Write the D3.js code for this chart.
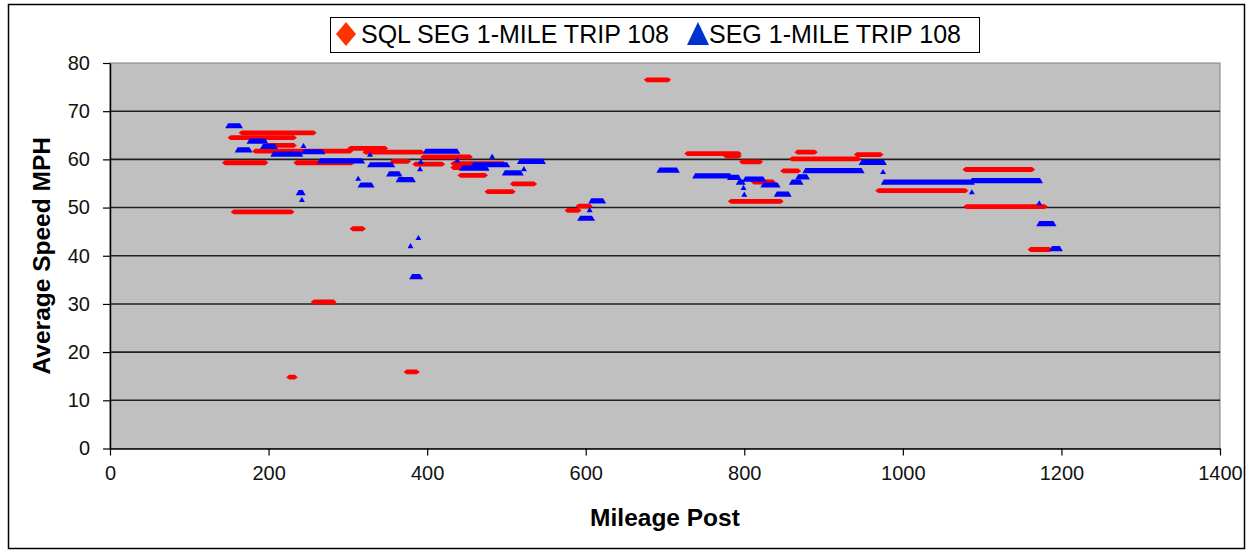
<!DOCTYPE html>
<html><head><meta charset="utf-8">
<script src="https://cdn.jsdelivr.net/npm/d3@7"></script>
<style>body{margin:0;background:#fff}svg{display:block}text{font-family:"Liberation Sans",Arial,sans-serif}</style>
</head><body><svg id="c" width="1249" height="552"></svg>
<script>
// Series data as [startMile, endMile, avgSpeed]; a point has start == end
const sqlSeg = [
 [145,196,59.3],[152,232,64.5],[166,257,65.5],[200,232,62.9],[183,303,61.7],[156,229,49.1],
 [235,305,59.3],[226,233,14.8],[257,282,30.4],[306,319,45.6],[303,347,62.3],[322,393,61.5],
 [357,376,59.6],[374,387,15.9],[385,419,59.0],[395,454,60.5],[433,496,59.1],[433,454,58.3],
 [442,473,56.7],[476,508,53.3],[508,535,54.9],[577,591,49.4],[591,605,50.3],[677,704,76.5],
 [728,793,61.2],[777,793,60.7],[797,820,59.5],[783,846,51.3],[812,836,55.3],[849,868,57.6],
 [860,944,60.1],[867,889,61.5],[942,972,61.0],[969,1079,53.5],[1079,1163,57.9],[1080,1179,50.2],
 [1161,1185,41.3]
];
const seg = [
 [149,164,66.9],[161,176,61.9],[176,196,63.7],[193,208,62.6],[206,240,61.0],[244,268,61.5],
 [244,244,62.8],[238,243,53.0],[242,242,51.6],[265,318,59.6],[313,313,56.0],[316,330,54.6],
 [328,356,58.8],[328,328,61.0],[352,365,56.9],[364,382,55.7],[379,379,42.0],[381,391,35.6],
 [389,389,43.7],[391,391,58.0],[392,392,59.5],[398,438,61.6],[438,438,59.8],[444,475,58.1],
 [458,501,58.8],[482,482,60.6],[498,518,57.1],[522,522,58.0],[517,546,59.5],[593,608,47.7],
 [605,605,49.5],[607,622,51.3],[693,715,57.7],[738,782,56.5],[782,793,56.2],[793,798,55.2],
 [799,799,54.1],[800,800,52.7],[801,824,55.8],[824,842,54.6],[841,856,52.7],[860,871,55.2],
 [868,879,56.3],[877,948,57.6],[948,976,59.3],[975,975,57.4],[976,1087,55.2],[1087,1173,55.5],
 [1087,1087,53.2],[1172,1172,50.9],[1172,1190,46.6],[1188,1198,41.4]
];
const seriesNames = ["SQL SEG 1-MILE TRIP 108","SEG 1-MILE TRIP 108"];
const xTicks = [0,200,400,600,800,1000,1200,1400];
const yTicks = [0,10,20,30,40,50,60,70,80];

const svg = d3.select("#c");
const L=110,R=1220,T=63,B=448.5;
const x = d3.scaleLinear().domain([0,1400]).range([L,R]);
const y = d3.scaleLinear().domain([0,80]).range([B,T]);

svg.append("rect").attr("x",8.5).attr("y",4.5).attr("width",1236).attr("height",544)
  .attr("fill","#fff").attr("stroke","#000").attr("stroke-width",1.5);
svg.append("rect").attr("x",L).attr("y",T).attr("width",R-L).attr("height",B-T)
  .attr("fill","#C0C0C0").attr("stroke","#808080").attr("stroke-width",1);

// gridlines
svg.append("g").selectAll("line").data(yTicks.filter(d=>d>0&&d<80)).join("line")
  .attr("x1",L).attr("x2",R).attr("y1",d=>y(d)).attr("y2",d=>y(d))
  .attr("stroke","#202020").attr("stroke-width",1.6);

// axes
const gx = svg.append("g").attr("transform",`translate(0,${B})`)
  .call(d3.axisBottom(x).tickValues(xTicks).tickFormat(d3.format("d")).tickSize(7).tickPadding(10).tickSizeOuter(0));
const gy = svg.append("g").attr("transform",`translate(${L},0)`)
  .call(d3.axisLeft(y).tickValues(yTicks).tickFormat(d3.format("d")).tickSize(7).tickPadding(13).tickSizeOuter(0));
[gx,gy].forEach(g=>{
  g.select(".domain").attr("stroke","#000").attr("stroke-width",1.5);
  g.selectAll(".tick line").attr("stroke","#000").attr("stroke-width",1.2);
  g.selectAll("text").attr("font-size",20).attr("fill","#111")
   .attr("font-family",'"Liberation Sans",Arial,sans-serif');
});

// series marks
function redPath(d){
  const x1=x(d[0]),x2=x(d[1]),yy=y(d[2]),h=2.4;
  return `M${x1-3},${yy}L${x1},${yy-h}L${x2},${yy-h}L${x2+3},${yy}L${x2},${yy+h}L${x1},${yy+h}Z`;
}
function bluePath(d){
  const x1=x(d[0]),x2=x(d[1]),yy=y(d[2]);
  return `M${x1-3},${yy+2.2}L${x1},${yy-3}L${x2},${yy-3}L${x2+3},${yy+2.2}Z`;
}
svg.append("g").selectAll("path").data(sqlSeg).join("path").attr("d",redPath).attr("fill","#FF0000");
svg.append("g").selectAll("path").data(seg).join("path").attr("d",bluePath).attr("fill","#0000FF");

// axis titles
svg.append("text").attr("x",(L+R)/2).attr("y",526).attr("text-anchor","middle")
  .attr("font-size",24.5).attr("font-weight","bold").text("Mileage Post");
svg.append("text").attr("transform",`translate(50,${(T+B)/2}) rotate(-90)`).attr("text-anchor","middle")
  .attr("font-size",24.5).attr("font-weight","bold").text("Average Speed MPH");

// legend
const lg = svg.append("g");
lg.append("rect").attr("x",330.5).attr("y",17.5).attr("width",649).attr("height",35)
  .attr("fill","#fff").attr("stroke","#000").attr("stroke-width",1);
lg.append("path").attr("d","M346,22L356,34L346,46L336,34Z").attr("fill","#FF3300");
lg.append("text").attr("x",361).attr("y",43).attr("font-size",25).text(seriesNames[0]);
lg.append("path").attr("d","M698,22L709,45L687,45Z").attr("fill","#0033CC");
lg.append("text").attr("x",709).attr("y",43).attr("font-size",25).text(seriesNames[1]);
</script></body></html>
